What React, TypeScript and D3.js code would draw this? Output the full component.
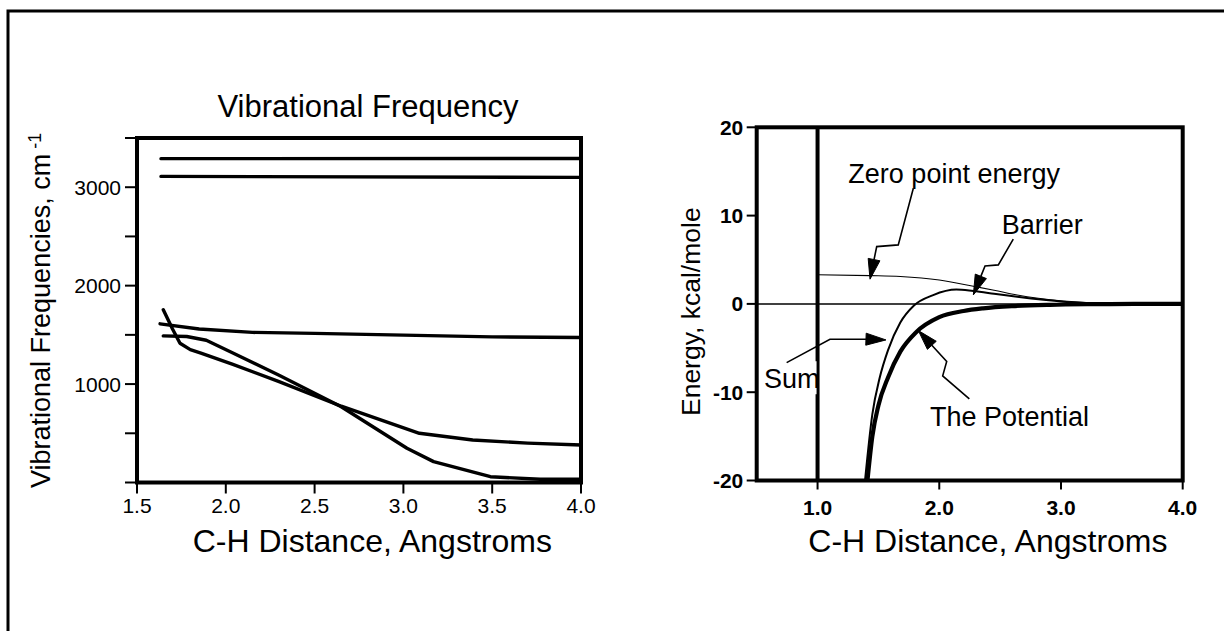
import React from 'react';
import * as d3 from 'd3';

const FONT = '"Liberation Sans", Arial, Helvetica, sans-serif';

// ---------- Left chart: vibrational frequencies ----------
const freqTitle = 'Vibrational Frequency';
const freqXLabel = 'C-H Distance, Angstroms';
const freqYLabel = 'Vibrational Frequencies, cm';
const freqXTicks = [1.5, 2.0, 2.5, 3.0, 3.5, 4.0];
const freqXTickLabels = ['1.5', '2.0', '2.5', '3.0', '3.5', '4.0'];
const freqYTicks = [0, 500, 1000, 1500, 2000, 2500, 3000, 3500];
const freqYTickLabels = ['', '', '1000', '', '2000', '', '3000', ''];

const modeAx = [1.635, 4.0];
const modeAy = [3290, 3292];
const modeBx = [1.635, 4.0];
const modeBy = [3110, 3100];
const modeCx = [1.63, 1.85, 2.15, 2.5, 3.0, 3.5, 4.0];
const modeCy = [1612, 1560, 1525, 1515, 1497, 1480, 1473];
const modeDx = [1.648, 1.70, 1.742, 1.80, 1.86, 2.04, 2.3, 2.65, 3.09, 3.39, 3.7, 4.0];
const modeDy = [1755, 1560, 1415, 1350, 1315, 1200, 1025, 775, 500, 432, 400, 381];
const modeEx = [1.648, 1.78, 1.89, 2.04, 2.3, 2.65, 3.02, 3.17, 3.49, 3.77, 4.0];
const modeEy = [1490, 1483, 1445, 1315, 1090, 770, 348, 212, 59, 33, 33];

// ---------- Right chart: energy ----------
const enXLabel = 'C-H Distance, Angstroms';
const enYLabel = 'Energy, kcal/mole';
const enXTicks = [1.0, 2.0, 3.0, 4.0];
const enXTickLabels = ['1.0', '2.0', '3.0', '4.0'];
const enYTicks = [-20, -10, 0, 10, 20];
const enYTickLabels = ['-20', '-10', '0', '10', '20'];

const potX = [1.41, 1.45, 1.5, 1.58, 1.68, 1.81, 2.0, 2.2, 2.36, 2.6, 2.91, 3.3, 3.6, 4.0];
const potY = [-20, -15, -11.5, -8.3, -5.4, -3.2, -1.5, -0.8, -0.5, -0.25, -0.1, -0.03, 0, 0];
const sumX = [1.39, 1.45, 1.51, 1.58, 1.68, 1.79, 1.95, 2.14, 2.28, 2.45, 2.64, 3.02, 3.4, 4.0];
const sumY = [-20, -12.5, -8.4, -5.2, -2.1, -0.2, 1.0, 1.62, 1.45, 1.15, 0.8, 0.25, 0.05, 0];
const zpeX = [1.0, 1.43, 1.68, 2.0, 2.28, 2.45, 2.64, 3.02, 3.4, 4.0];
const zpeY = [3.3, 3.2, 3.1, 2.7, 2.0, 1.55, 1.0, 0.33, 0.06, 0];
const wallX = 1.0;

// annotations: text anchor (data coords) and leader path (data coords, last = arrow tip)
const annZpeText = 'Zero point energy';
const annZpeAt = [1.253, 13.67];
const annZpePath = [[1.787, 13.1], [1.663, 6.68], [1.486, 6.49], [1.431, 2.8]];
const annBarText = 'Barrier';
const annBarAt = [2.513, 7.93];
const annBarPath = [[2.608, 7.33], [2.485, 4.42], [2.376, 4.3], [2.28, 1.02]];
const annSumText = 'Sum';
const annSumAt = [0.56, -9.55];
const annSumPath = [[0.746, -6.65], [1.102, -4.0], [1.404, -4.0], [1.562, -4.08]];
const annPotText = 'The Potential';
const annPotAt = [1.924, -13.78];
const annPotPath = [[2.247, -10.76], [2.028, -8.15], [2.061, -6.53], [1.828, -3.02]];

function Arrow({ pts }: { pts: [number, number][] }) {
  const n = pts.length;
  const [tx, ty] = pts[n - 1];
  const [px, py] = pts[n - 2];
  const dx = tx - px, dy = ty - py;
  const L = Math.hypot(dx, dy);
  const ux = dx / L, uy = dy / L;
  const len = 20, hw = 6;
  const bx = tx - ux * len, by = ty - uy * len;
  const linePts = pts.slice(0, n - 1).concat([[bx, by]]);
  const d = d3.line()(linePts as any) as string;
  const tri = `M${tx},${ty}L${bx - uy * hw},${by + ux * hw}L${bx + uy * hw},${by - ux * hw}Z`;
  return (
    <g>
      <path d={d} fill="none" stroke="#000" strokeWidth={1.6} />
      <path d={tri} fill="#000" stroke="#000" strokeWidth={1} />
    </g>
  );
}

export default function App() {
  // left scales
  const xL = d3.scaleLinear().domain([1.5, 4.0]).range([137, 581]);
  const yL = d3.scaleLinear().domain([0, 3500]).range([482.5, 138]);
  const lineL = (xs: number[], ys: number[]) =>
    d3.line<number>().x((_, i) => xL(xs[i])).y((_, i) => yL(ys[i])).curve(d3.curveLinear)(xs) as string;

  // right scales
  const xR = d3.scaleLinear().domain([0.5, 4.0]).range([756.7, 1182.7]);
  const yR = d3.scaleLinear().domain([-20, 20]).range([480.5, 127.3]);
  const lineR = (xs: number[], ys: number[]) =>
    d3.line<number>().x((_, i) => xR(xs[i])).y((_, i) => yR(ys[i])).curve(d3.curveMonotoneX)(xs) as string;
  const toPx = (p: number[][]) => p.map(([a, b]) => [xR(a), yR(b)] as [number, number]);

  const modes = [
    [modeAx, modeAy], [modeBx, modeBy], [modeCx, modeCy], [modeDx, modeDy], [modeEx, modeEy],
  ];

  return (
    <svg width={1224} height={631} style={{ position: 'absolute', left: 0, top: 0, background: '#fff' }}
      fontFamily={FONT}>
      <rect x={0} y={0} width={1224} height={631} fill="#fff" />
      {/* outer frame */}
      <rect x={8} y={11} width={1240} height={660} fill="none" stroke="#000" strokeWidth={3} />

      {/* ---------------- LEFT CHART ---------------- */}
      <text x={368} y={117} fontSize={31} textAnchor="middle">{freqTitle}</text>
      {modes.map(([xs, ys], i) => (
        <path key={i} d={lineL(xs, ys)} fill="none" stroke="#000" strokeWidth={3.4}
          strokeLinejoin="round" strokeLinecap="round" />
      ))}
      <rect x={xL(1.5)} y={yL(3500)} width={xL(4.0) - xL(1.5)} height={yL(0) - yL(3500)}
        fill="none" stroke="#000" strokeWidth={4} />
      {freqYTicks.map((t, i) => (
        <g key={'yl' + i}>
          <line x1={xL(1.5) - 12} x2={xL(1.5)} y1={yL(t)} y2={yL(t)} stroke="#000" strokeWidth={2} />
          {freqYTickLabels[i] && (
            <text x={xL(1.5) - 16} y={yL(t) + 7.5} fontSize={21} textAnchor="end">{freqYTickLabels[i]}</text>
          )}
        </g>
      ))}
      {freqXTicks.map((t, i) => (
        <g key={'xl' + i}>
          <line x1={xL(t)} x2={xL(t)} y1={yL(0)} y2={yL(0) + 11} stroke="#000" strokeWidth={2} />
          <text x={xL(t)} y={513} fontSize={21} textAnchor="middle">{freqXTickLabels[i]}</text>
        </g>
      ))}
      <text x={192.7} y={551.7} fontSize={32}>{freqXLabel}</text>
      <text transform="translate(50,488) rotate(-90)" fontSize={27}>
        {freqYLabel}
        <tspan dx={5} dy={-9} fontSize={18}>-1</tspan>
      </text>

      {/* ---------------- RIGHT CHART ---------------- */}
      <line x1={xR(0.5)} x2={xR(4.0)} y1={yR(0)} y2={yR(0)} stroke="#000" strokeWidth={1.5} />
      <line x1={xR(wallX)} x2={xR(wallX)} y1={yR(20)} y2={yR(-20)} stroke="#000" strokeWidth={4} />
      <path d={lineR(zpeX, zpeY)} fill="none" stroke="#000" strokeWidth={1.1} />
      <path d={lineR(sumX, sumY)} fill="none" stroke="#000" strokeWidth={2} />
      <path d={lineR(potX, potY)} fill="none" stroke="#000" strokeWidth={4.2} />

      {/* Sum label with white backing */}
      <rect x={xR(annSumAt[0]) - 2} y={yR(annSumAt[1]) - 27} width={xR(1.0) - xR(annSumAt[0]) + 1} height={33} fill="#fff" />
      <text x={xR(annSumAt[0])} y={yR(annSumAt[1])} fontSize={27}>{annSumText}</text>
      <text x={xR(annZpeAt[0])} y={yR(annZpeAt[1])} fontSize={27}>{annZpeText}</text>
      <text x={xR(annBarAt[0])} y={yR(annBarAt[1])} fontSize={27}>{annBarText}</text>
      <text x={xR(annPotAt[0])} y={yR(annPotAt[1])} fontSize={27}>{annPotText}</text>
      <Arrow pts={toPx(annZpePath)} />
      <Arrow pts={toPx(annBarPath)} />
      <Arrow pts={toPx(annSumPath)} />
      <Arrow pts={toPx(annPotPath)} />

      <rect x={xR(0.5)} y={yR(20)} width={xR(4.0) - xR(0.5)} height={yR(-20) - yR(20)}
        fill="none" stroke="#000" strokeWidth={4} />
      {enYTicks.map((t, i) => (
        <g key={'yr' + i}>
          <line x1={xR(0.5) - 10} x2={xR(0.5)} y1={yR(t)} y2={yR(t)} stroke="#000" strokeWidth={2} />
          <text x={743.3} y={yR(t) + 7.5} fontSize={21} fontWeight="bold" textAnchor="end">{enYTickLabels[i]}</text>
        </g>
      ))}
      {enXTicks.map((t, i) => (
        <g key={'xr' + i}>
          <line x1={xR(t)} x2={xR(t)} y1={yR(-20)} y2={yR(-20) + 9} stroke="#000" strokeWidth={2} />
          <text x={xR(t)} y={515} fontSize={21} fontWeight="bold" textAnchor="middle">{enXTickLabels[i]}</text>
        </g>
      ))}
      <text x={808.3} y={551.7} fontSize={32}>{enXLabel}</text>
      <text transform="translate(700,311.7) rotate(-90)" fontSize={26.5} textAnchor="middle">{enYLabel}</text>
    </svg>
  );
}
